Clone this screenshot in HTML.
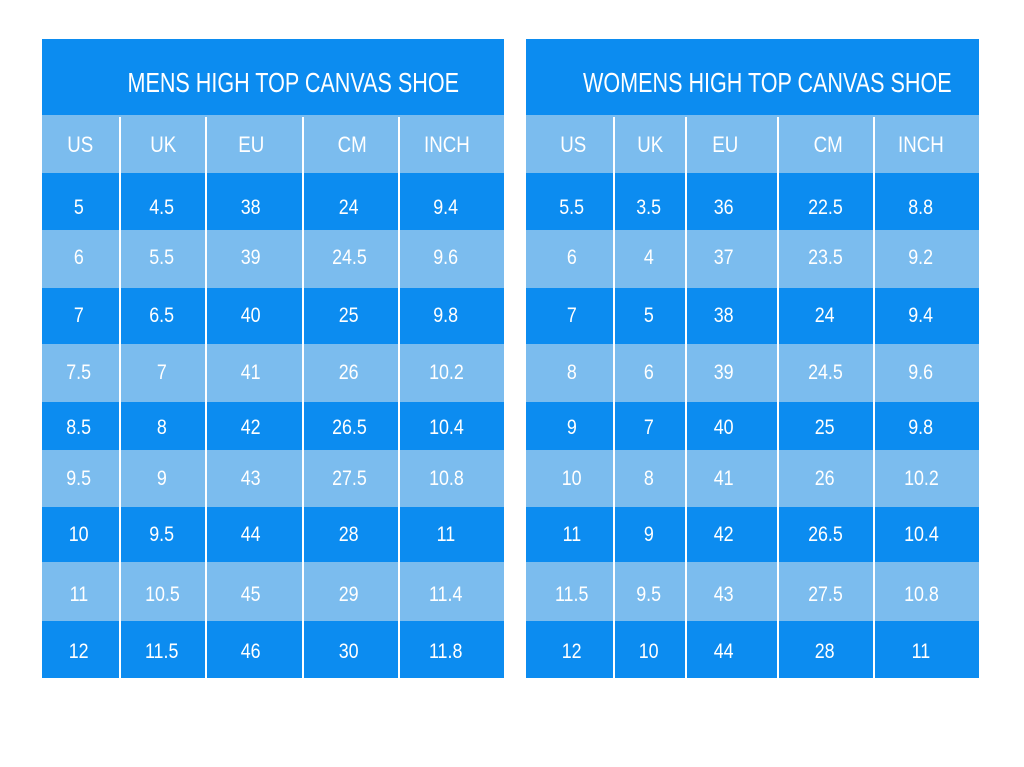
<!DOCTYPE html>
<html><head><meta charset="utf-8"><style>
html,body{margin:0;padding:0;background:#fff;}
body{width:1024px;height:767px;position:relative;overflow:hidden;font-family:"Liberation Sans",sans-serif;}
.b{position:absolute;}
.d{background:#0c8cf0;}
.l{background:#7bbcee;}
.v{position:absolute;background:#fff;width:2px;top:117px;height:561px;}
.t{position:absolute;width:120px;height:30px;line-height:30px;text-align:center;color:#fff;font-size:21px;white-space:nowrap;}
.t span{display:inline-block;transform:scaleX(0.85);}
.h{font-size:22px;}
.ti{position:absolute;width:500px;height:40px;line-height:40px;text-align:center;color:#fff;font-size:28px;white-space:nowrap;}
.ti span{display:inline-block;transform:scaleX(0.77);}
</style></head><body>
<!-- LEFT TABLE -->
<div class="b d" style="left:42px;top:39px;width:462px;height:76px"></div>
<div class="b l" style="left:42px;top:115px;width:462px;height:58px"></div>
<div class="b d" style="left:42px;top:173px;width:462px;height:57px"></div>
<div class="b l" style="left:42px;top:230px;width:462px;height:58px"></div>
<div class="b d" style="left:42px;top:288px;width:462px;height:56px"></div>
<div class="b l" style="left:42px;top:344px;width:462px;height:58px"></div>
<div class="b d" style="left:42px;top:402px;width:462px;height:48px"></div>
<div class="b l" style="left:42px;top:450px;width:462px;height:57px"></div>
<div class="b d" style="left:42px;top:507px;width:462px;height:55px"></div>
<div class="b l" style="left:42px;top:562px;width:462px;height:59px"></div>
<div class="b d" style="left:42px;top:621px;width:462px;height:57px"></div>
<div class="v" style="left:119px"></div>
<div class="v" style="left:205px"></div>
<div class="v" style="left:302px"></div>
<div class="v" style="left:398px"></div>
<!-- RIGHT TABLE -->
<div class="b d" style="left:526px;top:39px;width:453px;height:76px"></div>
<div class="b l" style="left:526px;top:115px;width:453px;height:58px"></div>
<div class="b d" style="left:526px;top:173px;width:453px;height:57px"></div>
<div class="b l" style="left:526px;top:230px;width:453px;height:58px"></div>
<div class="b d" style="left:526px;top:288px;width:453px;height:56px"></div>
<div class="b l" style="left:526px;top:344px;width:453px;height:58px"></div>
<div class="b d" style="left:526px;top:402px;width:453px;height:48px"></div>
<div class="b l" style="left:526px;top:450px;width:453px;height:57px"></div>
<div class="b d" style="left:526px;top:507px;width:453px;height:55px"></div>
<div class="b l" style="left:526px;top:562px;width:453px;height:59px"></div>
<div class="b d" style="left:526px;top:621px;width:453px;height:57px"></div>
<div class="v" style="left:613px"></div>
<div class="v" style="left:685px"></div>
<div class="v" style="left:777px"></div>
<div class="v" style="left:873px"></div>

<div class="ti" style="left:43px;top:63px"><span>MENS HIGH TOP CANVAS SHOE</span></div>
<div class="ti" style="left:517px;top:63px"><span>WOMENS HIGH TOP CANVAS SHOE</span></div>

<!-- Left header -->
<div class="t h" style="left:20px;top:130px"><span>US</span></div>
<div class="t h" style="left:103px;top:130px"><span>UK</span></div>
<div class="t h" style="left:191px;top:130px"><span>EU</span></div>
<div class="t h" style="left:292px;top:130px"><span>CM</span></div>
<div class="t h" style="left:387px;top:130px"><span>INCH</span></div>
<!-- Right header -->
<div class="t h" style="left:513px;top:130px"><span>US</span></div>
<div class="t h" style="left:590px;top:130px"><span>UK</span></div>
<div class="t h" style="left:665px;top:130px"><span>EU</span></div>
<div class="t h" style="left:768px;top:130px"><span>CM</span></div>
<div class="t h" style="left:861px;top:130px"><span>INCH</span></div>

<!-- Left data rows -->
<div class="t" style="left:19px;top:193px"><span>5</span></div><div class="t" style="left:102px;top:193px"><span>4.5</span></div><div class="t" style="left:191px;top:193px"><span>38</span></div><div class="t" style="left:289px;top:193px"><span>24</span></div><div class="t" style="left:386px;top:193px"><span>9.4</span></div>
<div class="t" style="left:19px;top:243px"><span>6</span></div><div class="t" style="left:102px;top:243px"><span>5.5</span></div><div class="t" style="left:191px;top:243px"><span>39</span></div><div class="t" style="left:289px;top:243px"><span>24.5</span></div><div class="t" style="left:386px;top:243px"><span>9.6</span></div>
<div class="t" style="left:19px;top:301px"><span>7</span></div><div class="t" style="left:102px;top:301px"><span>6.5</span></div><div class="t" style="left:191px;top:301px"><span>40</span></div><div class="t" style="left:289px;top:301px"><span>25</span></div><div class="t" style="left:386px;top:301px"><span>9.8</span></div>
<div class="t" style="left:19px;top:358px"><span>7.5</span></div><div class="t" style="left:102px;top:358px"><span>7</span></div><div class="t" style="left:191px;top:358px"><span>41</span></div><div class="t" style="left:289px;top:358px"><span>26</span></div><div class="t" style="left:386px;top:358px"><span>10.2</span></div>
<div class="t" style="left:19px;top:413px"><span>8.5</span></div><div class="t" style="left:102px;top:413px"><span>8</span></div><div class="t" style="left:191px;top:413px"><span>42</span></div><div class="t" style="left:289px;top:413px"><span>26.5</span></div><div class="t" style="left:386px;top:413px"><span>10.4</span></div>
<div class="t" style="left:19px;top:464px"><span>9.5</span></div><div class="t" style="left:102px;top:464px"><span>9</span></div><div class="t" style="left:191px;top:464px"><span>43</span></div><div class="t" style="left:289px;top:464px"><span>27.5</span></div><div class="t" style="left:386px;top:464px"><span>10.8</span></div>
<div class="t" style="left:19px;top:520px"><span>10</span></div><div class="t" style="left:102px;top:520px"><span>9.5</span></div><div class="t" style="left:191px;top:520px"><span>44</span></div><div class="t" style="left:289px;top:520px"><span>28</span></div><div class="t" style="left:386px;top:520px"><span>11</span></div>
<div class="t" style="left:19px;top:580px"><span>11</span></div><div class="t" style="left:102px;top:580px"><span>10.5</span></div><div class="t" style="left:191px;top:580px"><span>45</span></div><div class="t" style="left:289px;top:580px"><span>29</span></div><div class="t" style="left:386px;top:580px"><span>11.4</span></div>
<div class="t" style="left:19px;top:637px"><span>12</span></div><div class="t" style="left:102px;top:637px"><span>11.5</span></div><div class="t" style="left:191px;top:637px"><span>46</span></div><div class="t" style="left:289px;top:637px"><span>30</span></div><div class="t" style="left:386px;top:637px"><span>11.8</span></div>

<!-- Right data rows -->
<div class="t" style="left:512px;top:193px"><span>5.5</span></div><div class="t" style="left:589px;top:193px"><span>3.5</span></div><div class="t" style="left:664px;top:193px"><span>36</span></div><div class="t" style="left:765px;top:193px"><span>22.5</span></div><div class="t" style="left:861px;top:193px"><span>8.8</span></div>
<div class="t" style="left:512px;top:243px"><span>6</span></div><div class="t" style="left:589px;top:243px"><span>4</span></div><div class="t" style="left:664px;top:243px"><span>37</span></div><div class="t" style="left:765px;top:243px"><span>23.5</span></div><div class="t" style="left:861px;top:243px"><span>9.2</span></div>
<div class="t" style="left:512px;top:301px"><span>7</span></div><div class="t" style="left:589px;top:301px"><span>5</span></div><div class="t" style="left:664px;top:301px"><span>38</span></div><div class="t" style="left:765px;top:301px"><span>24</span></div><div class="t" style="left:861px;top:301px"><span>9.4</span></div>
<div class="t" style="left:512px;top:358px"><span>8</span></div><div class="t" style="left:589px;top:358px"><span>6</span></div><div class="t" style="left:664px;top:358px"><span>39</span></div><div class="t" style="left:765px;top:358px"><span>24.5</span></div><div class="t" style="left:861px;top:358px"><span>9.6</span></div>
<div class="t" style="left:512px;top:413px"><span>9</span></div><div class="t" style="left:589px;top:413px"><span>7</span></div><div class="t" style="left:664px;top:413px"><span>40</span></div><div class="t" style="left:765px;top:413px"><span>25</span></div><div class="t" style="left:861px;top:413px"><span>9.8</span></div>
<div class="t" style="left:512px;top:464px"><span>10</span></div><div class="t" style="left:589px;top:464px"><span>8</span></div><div class="t" style="left:664px;top:464px"><span>41</span></div><div class="t" style="left:765px;top:464px"><span>26</span></div><div class="t" style="left:861px;top:464px"><span>10.2</span></div>
<div class="t" style="left:512px;top:520px"><span>11</span></div><div class="t" style="left:589px;top:520px"><span>9</span></div><div class="t" style="left:664px;top:520px"><span>42</span></div><div class="t" style="left:765px;top:520px"><span>26.5</span></div><div class="t" style="left:861px;top:520px"><span>10.4</span></div>
<div class="t" style="left:512px;top:580px"><span>11.5</span></div><div class="t" style="left:589px;top:580px"><span>9.5</span></div><div class="t" style="left:664px;top:580px"><span>43</span></div><div class="t" style="left:765px;top:580px"><span>27.5</span></div><div class="t" style="left:861px;top:580px"><span>10.8</span></div>
<div class="t" style="left:512px;top:637px"><span>12</span></div><div class="t" style="left:589px;top:637px"><span>10</span></div><div class="t" style="left:664px;top:637px"><span>44</span></div><div class="t" style="left:765px;top:637px"><span>28</span></div><div class="t" style="left:861px;top:637px"><span>11</span></div>
</body></html>
